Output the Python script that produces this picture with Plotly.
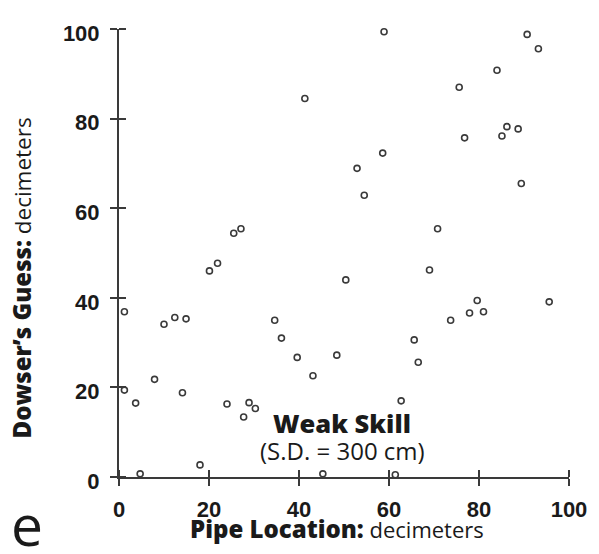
import plotly.graph_objects as go

# Pipe location (decimeters) and the dowser's guessed location (decimeters)
pipe_location = [41.3, 25.5, 27.1, 58.9, 90.7, 93.2, 84.0, 75.6, 86.2, 88.7,
                 85.1, 76.8, 58.6, 52.9, 54.5, 89.4, 70.8, 20.1, 21.9, 1.2,
                 10.0, 12.4, 14.9, 34.6, 36.1, 39.6, 43.1, 1.2, 7.9, 3.7,
                 14.1, 24.0, 27.7, 28.9, 30.3, 18.0, 4.7, 45.3, 50.4, 69.0,
                 79.6, 77.9, 81.0, 73.7, 95.6, 65.6, 66.5, 48.4, 62.7, 61.4]
dowser_guess = [84.5, 54.4, 55.4, 99.4, 98.8, 95.6, 90.8, 87.0, 78.2, 77.7,
                76.1, 75.7, 72.3, 68.9, 62.9, 65.5, 55.4, 46.0, 47.7, 36.9,
                34.1, 35.6, 35.3, 35.0, 31.0, 26.7, 22.6, 19.4, 21.8, 16.5,
                18.8, 16.3, 13.4, 16.6, 15.3, 2.7, 0.7, 0.7, 44.0, 46.2,
                39.4, 36.6, 36.9, 35.0, 39.1, 30.6, 25.6, 27.2, 17.0, 0.5]

tick_values = [0, 20, 40, 60, 80, 100]
tick_labels = ["0", "20", "40", "60", "80", "100"]

INK = "#3a3a3a"
TEXT = "#1a1a1a"
HEAVY = "font-weight:800;font-size:24px"

fig = go.Figure()
fig.add_trace(go.Scatter(
    x=pipe_location, y=dowser_guess, mode="markers", cliponaxis=False,
    marker=dict(symbol="circle-open", size=6, color=INK, line=dict(width=1.6, color=INK)),
    showlegend=False, hoverinfo="skip"))

tickfont = dict(family="Liberation Sans", size=22, color=TEXT, weight="bold")
common = dict(range=[0, 100], tickvals=tick_values, showgrid=False, zeroline=False,
              showline=True, linecolor=INK, linewidth=2, tickcolor=INK, tickwidth=2,
              ticklen=7, ticks="outside", ticktext=tick_labels, tickfont=tickfont,
              fixedrange=True)
# inward half of each crossing tick: minor ticks nudged off the major values
# (by far less than a pixel) so they are not merged away
inner = dict(ticks="inside", tickvals=[v + 1e-6 for v in tick_values], ticklen=7,
             tickwidth=2, tickcolor=INK, showgrid=False)

fig.update_layout(
    width=599, height=554, margin=dict(l=119, r=22, t=29, b=77),
    paper_bgcolor="white", plot_bgcolor="white",
    xaxis=dict(**common, ticklabelstandoff=5, minor=inner),
    yaxis=dict(**common, ticklabelstandoff=6, ticklabelshift=4, minor=inner),
    annotations=[
        dict(text="<span style='font-weight:800'>Weak Skill</span>", x=49.6, y=12.0,
             xref="x", yref="y", showarrow=False, xanchor="center", yanchor="middle",
             font=dict(family="Open Sans", size=25.5, color=TEXT)),
        dict(text="(S.D. = 300 cm)", x=49.6, y=6.0, xref="x", yref="y",
             showarrow=False, xanchor="center", yanchor="middle",
             font=dict(family="Open Sans", size=24, color=TEXT)),
        dict(text=f"<span style='{HEAVY}'>Pipe Location:</span> decimeters",
             x=0.485, y=-0.116, xref="paper", yref="paper", showarrow=False,
             xanchor="center", yanchor="middle",
             font=dict(family="Open Sans", size=22, color=TEXT)),
        dict(text=f"<span style='{HEAVY}'>Dowser’s Guess:</span> decimeters",
             x=-0.216, y=0.445, xref="paper", yref="paper", showarrow=False,
             textangle=-90, xanchor="center", yanchor="middle",
             font=dict(family="Open Sans", size=22.5, color=TEXT)),
        dict(text="e", x=-0.204, y=-0.105, xref="paper", yref="paper", showarrow=False,
             xanchor="center", yanchor="middle",
             font=dict(family="Open Sans", size=57, color=TEXT)),
    ],
)

fig.write_html("out.html")
